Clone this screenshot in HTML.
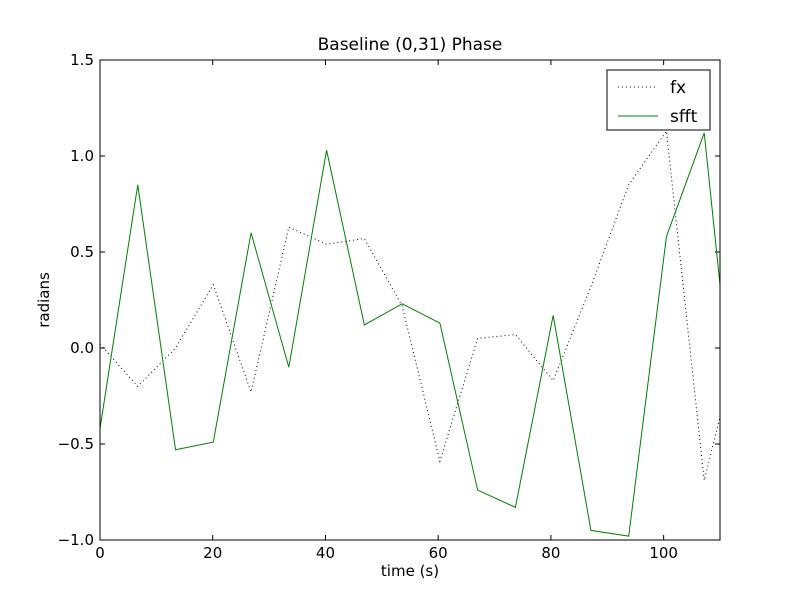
<!DOCTYPE html>
<html><head><meta charset="utf-8"><style>
body{margin:0;background:#fff;}
svg text{font-family:"DejaVu Sans","Liberation Sans",sans-serif;}
</style></head><body>
<svg id="chart" width="800" height="600" xmlns="http://www.w3.org/2000/svg">
<rect width="800" height="600" fill="#fff"/>
<defs><clipPath id="clip"><rect x="100" y="60" width="620" height="480"/></clipPath></defs>
<text x="410" y="50" font-size="17" text-anchor="middle">Baseline (0,31) Phase</text>
<text x="410" y="576" font-size="15" text-anchor="middle">time (s)</text>
<text x="49" y="300" font-size="15" text-anchor="middle" transform="rotate(-90 49 300)">radians</text>
<g id="ticks"></g>
<g id="series" clip-path="url(#clip)"></g>
<rect x="100" y="60" width="620" height="480" fill="none" stroke="#000" stroke-width="1"/>
<g>
<rect x="607" y="70" width="103" height="60" fill="#fff" stroke="#000"/>
<line x1="618" y1="87" x2="658" y2="87" stroke="#000" stroke-dasharray="1,3"/>
<text x="670" y="93" font-size="17">fx</text>
<line x1="618" y1="116" x2="658" y2="116" stroke="green"/>
<text x="670" y="122" font-size="17">sfft</text>
</g>
</svg>
<script>
const times=[0,6.7,13.4,20.1,26.8,33.5,40.2,46.9,53.6,60.3,67,73.7,80.4,87.1,93.8,100.5,107.2,113.9];
const fxValues=[0.02,-0.20,0.0,0.33,-0.23,0.63,0.54,0.57,0.22,-0.59,0.05,0.07,-0.17,0.32,0.85,1.13,-0.69,0.10];
const sfftValues=[-0.42,0.85,-0.53,-0.49,0.60,-0.10,1.03,0.12,0.23,0.13,-0.74,-0.83,0.17,-0.95,-0.98,0.58,1.12,-0.77];
const xTicks=[0,20,40,60,80,100];
const yTicks=[-1.0,-0.5,0.0,0.5,1.0,1.5];
const X=v=>100+v/110*620, Y=v=>540-(v+1)/2.5*480;
const NS="http://www.w3.org/2000/svg";
const tg=document.getElementById('ticks'), sg=document.getElementById('series');
function mk(t,a,p){const e=document.createElementNS(NS,t);for(const k in a)e.setAttribute(k,a[k]);p.appendChild(e);return e;}
xTicks.forEach(v=>{const x=X(v);
 const l=mk('line',{x1:x,y1:540,x2:x,y2:535,stroke:'#000'},tg);
 
 
 const l2=mk('line',{x1:x,y1:60,x2:x,y2:65,stroke:'#000'},tg);
 
 
 const t=mk('text',{x:x,y:558,'font-size':15,'text-anchor':'middle'},tg);t.textContent=v;
 
 });
yTicks.forEach(v=>{const y=Y(v);
 const l=mk('line',{x1:100,y1:y,x2:105,y2:y,stroke:'#000'},tg);
 
 
 const l2=mk('line',{x1:715,y1:y,x2:720,y2:y,stroke:'#000'},tg);
 
 
 const t=mk('text',{x:94,y:y+5,'font-size':15,'text-anchor':'end'},tg);t.textContent=(v<0?'\u2212':'')+Math.abs(v).toFixed(1);
 
 });
function pts(vals){return vals.map((v,i)=>X(times[i])+','+Y(v)).join(' ');}
const f=mk('polyline',{points:pts(fxValues),fill:'none',stroke:'#000','stroke-dasharray':'1,3'},sg);


const s=mk('polyline',{points:pts(sfftValues),fill:'none',stroke:'green'},sg);


</script>
</body></html>
